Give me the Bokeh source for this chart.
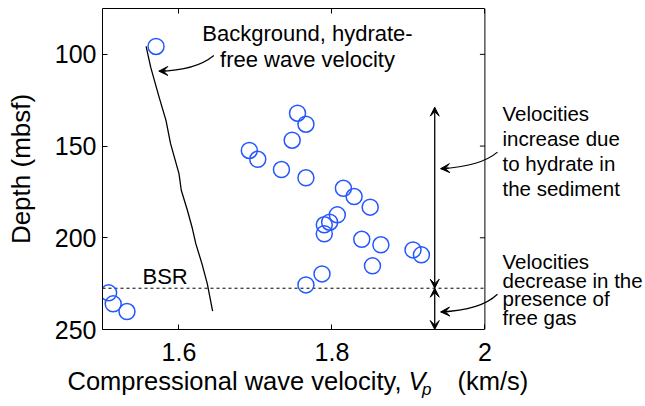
from bokeh.plotting import figure
from bokeh.models import (Range1d, LinearAxis, FixedTicker, Span, Label, Arrow,
                          VeeHead, CustomJSTickFormatter)
from bokeh.embed import file_html
from bokeh.resources import INLINE

# ---------------- data ----------------
hydrate_vp = [1.570, 1.755, 1.766, 1.748, 1.692, 1.703, 1.734, 1.766, 1.815, 1.829,
              1.850, 1.807, 1.797, 1.790, 1.790, 1.839, 1.864, 1.906, 1.917, 1.853,
              1.787, 1.766, 1.508, 1.514, 1.532]
hydrate_depth = [95.7, 132.1, 138.1, 146.8, 152.4, 157.2, 162.8, 167.3, 173.0, 177.5,
                 183.3, 187.5, 191.5, 192.9, 197.8, 200.8, 203.8, 206.6, 209.3, 215.3,
                 219.7, 225.7, 230.0, 236.0, 240.2]
background_vp = [1.557, 1.563, 1.574, 1.583, 1.589, 1.600, 1.603, 1.611, 1.617, 1.622,
                 1.630, 1.637, 1.644]
background_depth = [95.7, 107.0, 123.3, 136.0, 148.7, 165.0, 174.1, 185.0, 194.1, 203.2,
                    214.1, 225.0, 240.0]
bsr_depth = 227.5
x_ticks = [1.6, 1.8, 2.0]
y_ticks = [100, 150, 200, 250]
x_min, x_max = 1.5, 2.0
depth_top, depth_bottom = 75, 250

# ---------------- layout ----------------
FONT = "Liberation Sans"
W = 645
FRAME_H = 321
ML, MT, MB = 102, 8, 42
H = MT + FRAME_H + MB
LAB_H = 45
LAB_OVERLAP = 12
X_END = 2.21                     # frame extends right to hold annotations
px_per_x = (W - ML) / (X_END - x_min)
px_per_y = FRAME_H / (depth_bottom - depth_top)
BASE_K = 0.41                    # label baseline correction (fraction of font size)

p = figure(width=W, height=H, x_range=Range1d(x_min, X_END),
           y_range=Range1d(depth_bottom, depth_top),
           output_backend="svg", toolbar_location=None,
           min_border_left=ML, min_border_right=0, min_border_top=MT,
           min_border_bottom=MB)
p.outline_line_color = None
p.grid.visible = False
p.background_fill_color = "white"
p.border_fill_color = "white"


def style_axis(ax):
    ax.axis_line_color = "black"
    ax.axis_line_width = 1
    ax.major_tick_line_color = "black"
    ax.major_tick_in = 5
    ax.major_tick_out = 0
    ax.minor_tick_in = 0
    ax.minor_tick_out = 0
    ax.major_label_text_font = FONT
    ax.major_label_text_font_size = "25px"
    ax.major_label_text_color = "black"


xa = p.xaxis[0]
style_axis(xa)
xa.bounds = (x_min, x_max)
xa.ticker = FixedTicker(ticks=x_ticks)
xa.formatter = CustomJSTickFormatter(code="return tick.toString()")
xa.major_label_standoff = 13

ya = p.yaxis[0]
style_axis(ya)
ya.ticker = FixedTicker(ticks=y_ticks)
ya.major_label_standoff = 6
ya.axis_label = "Depth (mbsf)"
ya.axis_label_text_font = FONT
ya.axis_label_text_font_size = "26px"
ya.axis_label_text_font_style = "normal"
ya.axis_label_text_color = "black"
ya.axis_label_standoff = 16

top = LinearAxis(bounds=(x_min, x_max), ticker=FixedTicker(ticks=x_ticks),
                 formatter=CustomJSTickFormatter(code="return ''"))
style_axis(top)
top.major_label_text_font_size = "0px"
top.major_label_standoff = 0
p.add_layout(top, "above")

# right frame edge with inward ticks
p.add_layout(Span(location=x_max, dimension="height", line_color="black", line_width=1))
tick_len = 5 / px_per_x
rt = [t for t in y_ticks if t < depth_bottom]
p.segment(x0=[x_max] * len(rt), y0=rt, x1=[x_max - tick_len] * len(rt), y1=rt,
          line_color="black", line_width=1)

# BSR line
p.segment(x0=[x_min], y0=[bsr_depth], x1=[x_max], y1=[bsr_depth],
          line_color="black", line_width=1, line_dash="3 3")

# background velocity line
p.line(background_vp, background_depth, line_color="black", line_width=1.3)

# hydrate velocities
p.scatter(hydrate_vp, hydrate_depth, marker="circle", size=16, fill_color=None,
          line_color="#2457ff", line_width=1.5)


def txt(x, y, s, size=20, align="left", style="normal"):
    yy = y - BASE_K * size / px_per_y
    p.add_layout(Label(x=x, y=yy, text=s, text_font=FONT, text_font_size=f"{size}px",
                       text_align=align, text_baseline="alphabetic",
                       text_font_style=style, text_color="black"))


def curved_arrow(x0, y0, cx, cy, x1, y1):
    p.quadratic(x0=[x0], y0=[y0], cx=[cx], cy=[cy], x1=[x1], y1=[y1],
                line_color="black", line_width=1.2)
    sx = x1 + 0.2 * (cx - x1)
    sy = y1 + 0.2 * (cy - y1)
    p.add_layout(Arrow(end=VeeHead(size=9, fill_color="black", line_color="black",
                                   line_width=1),
                       x_start=sx, y_start=sy, x_end=x1, y_end=y1,
                       line_color="black", line_width=1.2))


# annotations
txt(1.768, 93.4, "Background, hydrate-", size=22, align="center")
txt(1.768, 107.8, "free wave velocity", size=22, align="center")
curved_arrow(1.6456, 100.6, 1.6217, 108.8, 1.5737, 109.15)

txt(1.5523, 225.9, "BSR", size=22)

right_x = 2.023
for s, yy in zip(["Velocities", "increase due", "to hydrate in", "the sediment"],
                 [136.9, 150.55, 164.2, 177.8]):
    txt(right_x, yy, s, size=20.5)
for s, yy in zip(["Velocities", "decrease in the", "presence of", "free gas"],
                 [217.7, 227.8, 237.85, 247.9]):
    txt(right_x, yy, s, size=20.5)

curved_arrow(2.0164, 153.3, 1.9946, 161.1, 1.9422, 162.3)
curved_arrow(2.0164, 230.8, 1.9946, 239.5, 1.9422, 240.4)

arrow_x = 1.9344
for ys, ye in [(bsr_depth, 128.8), (bsr_depth, depth_bottom)]:
    p.add_layout(Arrow(start=VeeHead(size=9, fill_color="black", line_color="black", line_width=1),
                       end=VeeHead(size=9, fill_color="black", line_color="black", line_width=1),
                       x_start=arrow_x, y_start=ys, x_end=arrow_x, y_end=ye,
                       line_color="black", line_width=1.3))

# ---------------- x axis title strip (italic V, subscript p) ----------------
lab = figure(width=W, height=LAB_H, x_range=Range1d(0, W), y_range=Range1d(0, LAB_H),
             output_backend="svg", toolbar_location=None,
             x_axis_location=None, y_axis_location=None,
             min_border_left=0, min_border_right=0, min_border_top=0, min_border_bottom=0,
             styles={"margin-top": f"-{LAB_OVERLAP}px"})
lab.outline_line_color = None
lab.grid.visible = False
lab.background_fill_alpha = 0
lab.border_fill_alpha = 0


def ltxt(x, base_from_bottom, s, size=25.5, style="normal"):
    lab.add_layout(Label(x=x, y=base_from_bottom + BASE_K * size, text=s, text_font=FONT,
                         text_font_size=f"{size}px", text_align="left",
                         text_baseline="alphabetic", text_font_style=style,
                         text_color="black"))


ltxt(67, 13, "Compressional wave velocity,")
ltxt(408, 13, "V", style="italic")
ltxt(421.5, 8.5, "p", size=17, style="italic")
ltxt(457, 13, "(km/s)")

open("out.html", "w").write(file_html([p, lab], INLINE))
